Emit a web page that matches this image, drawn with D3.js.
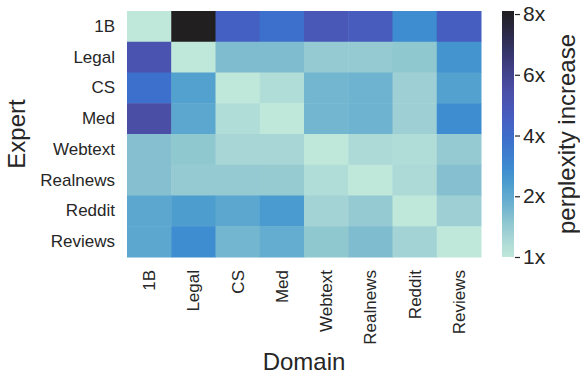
<!DOCTYPE html>
<html><head><meta charset="utf-8">
<script src="https://cdn.jsdelivr.net/npm/d3@7"></script>
<style>
body{margin:0;background:#fff;}
text{font-family:"Liberation Sans",Arial,sans-serif;fill:#262626;}
</style></head>
<body><svg id="c" width="580" height="377"></svg>
<script>
const experts = ["1B","Legal","CS","Med","Webtext","Realnews","Reddit","Reviews"];
const domains = ["1B","Legal","CS","Med","Webtext","Realnews","Reddit","Reviews"];
// perplexity increase (x), rows = expert, cols = domain
const row1B       = [1.0, 8.1, 4.5, 3.8, 4.9, 4.7, 2.9, 4.6];
const rowLegal    = [5.2, 1.0, 1.7, 1.7, 1.5, 1.5, 1.55, 2.7];
const rowCS       = [3.8, 2.3, 1.0, 1.2, 1.8, 1.85, 1.4, 2.3];
const rowMed      = [5.5, 2.1, 1.2, 1.0, 1.8, 1.85, 1.4, 2.9];
const rowWebtext  = [1.65, 1.55, 1.3, 1.3, 1.0, 1.25, 1.2, 1.5];
const rowRealnews = [1.65, 1.5, 1.5, 1.48, 1.2, 1.0, 1.25, 1.65];
const rowReddit   = [2.1, 2.4, 2.1, 2.5, 1.35, 1.5, 1.0, 1.4];
const rowReviews  = [2.1, 2.9, 1.8, 1.95, 1.55, 1.7, 1.35, 1.0];
const values = [row1B,rowLegal,rowCS,rowMed,rowWebtext,rowRealnews,rowReddit,rowReviews];
const cbTicks = [1,2,4,6,8];
const cbMax = 8.1;

// colormap (lower half of seaborn "icefire")
const cmapStops = [
 [0.00,"#bfe7da"],[0.05,"#b1ddd8"],[0.10,"#9ecfd4"],[0.14,"#8ec7d0"],
 [0.17,"#82bdd0"],[0.20,"#72b5cf"],[0.25,"#5ea9d0"],[0.30,"#4c9dcf"],
 [0.36,"#3e8cd0"],[0.47,"#3c70cc"],[0.55,"#4561c4"],[0.62,"#4a56b4"],
 [0.68,"#4a4ea5"],[0.80,"#3b3a78"],[0.90,"#2d2b4b"],[1.00,"#211f20"]];
const cmap = d3.scaleLinear().domain(cmapStops.map(d=>d[0])).range(cmapStops.map(d=>d[1])).interpolate(d3.interpolateRgb).clamp(true);

// tick-position scale for the colour axis (ticks evenly spaced)
const pos = d3.scaleLinear().domain([1,2,4,6,8,8.1]).range([0,1,2,3,4,4.05]);
const frac = v => pos(v)/pos(cbMax);

const svg = d3.select("#c");
const L=127,R=481,T=11,B=257;
const x = d3.scaleBand().domain(domains).range([L,R]);
const y = d3.scaleBand().domain(experts).range([T,B]);

const cells=[];
values.forEach((row,i)=>row.forEach((v,j)=>cells.push({e:experts[i],d:domains[j],v})));
svg.append("g").selectAll("rect").data(cells).join("rect")
  .attr("x",d=>x(d.d)).attr("y",d=>y(d.e))
  .attr("width",x.bandwidth()+0.5).attr("height",y.bandwidth()+0.5)
  .attr("fill",d=>cmap(frac(d.v)));

const ax = svg.append("g").attr("transform",`translate(${L},0)`)
  .call(d3.axisLeft(y).tickSize(0).tickPadding(12));
ax.select(".domain").remove();
ax.selectAll("text").attr("font-size",17).style("font-family","Liberation Sans, Arial, sans-serif").attr("fill","#262626");

const bx = svg.append("g").attr("transform",`translate(0,${B})`)
  .call(d3.axisBottom(x).tickSize(0).tickPadding(0));
bx.select(".domain").remove();
bx.selectAll("text").attr("font-size",17).style("font-family","Liberation Sans, Arial, sans-serif").attr("fill","#262626")
  .attr("text-anchor","end").attr("dy","0.35em").attr("y",0)
  .attr("transform","translate(0,13) rotate(-90)");

svg.append("text").attr("x",304).attr("y",370).attr("text-anchor","middle").attr("font-size",24).text("Domain");
svg.append("text").attr("transform","translate(25,134) rotate(-90)").attr("text-anchor","middle").attr("font-size",24).text("Expert");

// colorbar
const cbX=502, cbW=12;
const grad = svg.append("defs").append("linearGradient").attr("id","g").attr("x1",0).attr("y1",1).attr("x2",0).attr("y2",0);
d3.range(0,1.0001,0.02).forEach(t=>grad.append("stop").attr("offset",t).attr("stop-color",cmap(t)));
svg.append("rect").attr("x",cbX).attr("y",T).attr("width",cbW).attr("height",B-T).attr("fill","url(#g)");
const cbY = d3.scaleLinear().domain([0,pos(cbMax)]).range([B,T]);
const cbScale = v => cbY(pos(v));
const cbAxisScale = d3.scaleLinear().domain([1,2,4,6,8,8.1]).range([1,2,4,6,8,8.1].map(cbScale));
const cax = svg.append("g").attr("transform",`translate(${cbX+cbW+1},0)`)
  .call(d3.axisRight(cbAxisScale).tickValues(cbTicks).tickFormat(d=>d+"x").tickSize(5).tickPadding(3));
cax.select(".domain").remove();
cax.selectAll("line").attr("stroke","#262626").attr("stroke-width",1.2);
cax.selectAll("text").attr("font-size",21).style("font-family","Liberation Sans, Arial, sans-serif").attr("fill","#262626");
svg.append("text").attr("transform","translate(575,134) rotate(-90)").attr("text-anchor","middle").attr("font-size",24).text("perplexity increase");
</script></body></html>
